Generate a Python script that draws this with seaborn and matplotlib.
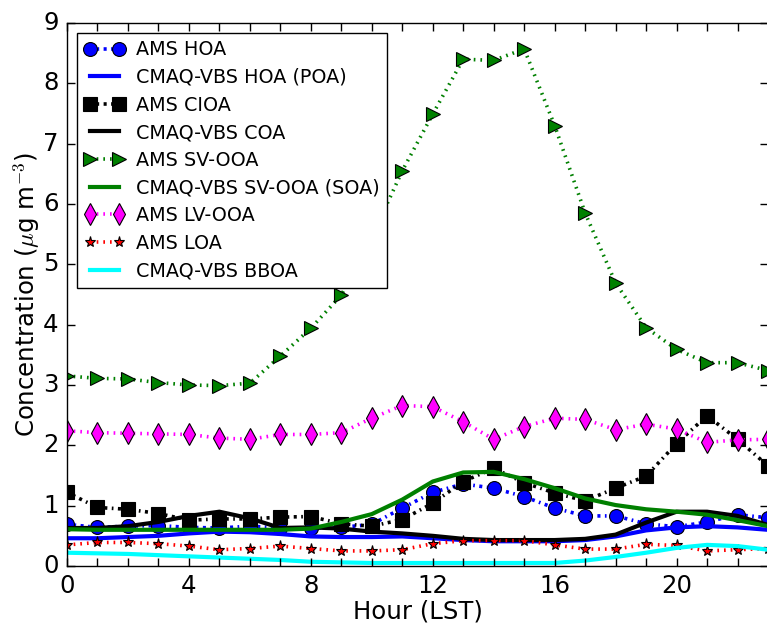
import numpy as np
import pandas as pd
import matplotlib
matplotlib.use("Agg")
import matplotlib.pyplot as plt
from matplotlib.ticker import MultipleLocator
import seaborn as sns

hours = list(range(24))

ams_hoa = [0.69, 0.64, 0.66, 0.67, 0.64, 0.63, 0.66, 0.63, 0.63, 0.64, 0.69, 0.96,
           1.22, 1.36, 1.29, 1.15, 0.96, 0.83, 0.83, 0.70, 0.65, 0.73, 0.85, 0.80]
cmaq_poa = [0.46, 0.46, 0.48, 0.50, 0.54, 0.57, 0.56, 0.53, 0.49, 0.48, 0.48, 0.49,
            0.46, 0.43, 0.41, 0.41, 0.41, 0.43, 0.49, 0.59, 0.64, 0.66, 0.64, 0.60]
ams_cioa = [1.22, 0.97, 0.94, 0.87, 0.76, 0.78, 0.78, 0.81, 0.82, 0.70, 0.66, 0.77,
            1.04, 1.40, 1.62, 1.38, 1.21, 1.08, 1.29, 1.49, 2.03, 2.49, 2.10, 1.66]
cmaq_coa = [0.63, 0.63, 0.66, 0.73, 0.83, 0.90, 0.79, 0.63, 0.64, 0.62, 0.57, 0.54,
            0.50, 0.45, 0.43, 0.43, 0.43, 0.45, 0.52, 0.72, 0.90, 0.90, 0.83, 0.68]
ams_svooa = [3.15, 3.11, 3.10, 3.04, 3.00, 2.99, 3.03, 3.48, 3.94, 4.49, 5.45, 6.55,
             7.49, 8.40, 8.38, 8.57, 7.30, 5.85, 4.69, 3.95, 3.59, 3.37, 3.37, 3.24]
cmaq_soa = [0.61, 0.60, 0.60, 0.60, 0.60, 0.60, 0.60, 0.60, 0.62, 0.73, 0.86, 1.10,
            1.40, 1.55, 1.56, 1.44, 1.29, 1.12, 1.01, 0.94, 0.90, 0.85, 0.76, 0.66]
ams_lvooa = [2.24, 2.21, 2.20, 2.19, 2.18, 2.12, 2.10, 2.18, 2.18, 2.21, 2.45, 2.66,
             2.64, 2.39, 2.10, 2.31, 2.45, 2.43, 2.26, 2.35, 2.27, 2.05, 2.09, 2.10]
ams_loa = [0.35, 0.39, 0.39, 0.37, 0.33, 0.27, 0.29, 0.33, 0.29, 0.25, 0.25, 0.27,
           0.37, 0.42, 0.42, 0.42, 0.35, 0.28, 0.28, 0.36, 0.34, 0.25, 0.27, 0.29]
cmaq_bboa = [0.22, 0.21, 0.20, 0.18, 0.16, 0.14, 0.12, 0.10, 0.07, 0.06, 0.05, 0.05,
             0.05, 0.05, 0.05, 0.05, 0.05, 0.09, 0.15, 0.22, 0.30, 0.35, 0.33, 0.27]

df = pd.DataFrame({
    "hour": hours,
    "AMS HOA": ams_hoa,
    "CMAQ-VBS HOA (POA)": cmaq_poa,
    "AMS CIOA": ams_cioa,
    "CMAQ-VBS COA": cmaq_coa,
    "AMS SV-OOA": ams_svooa,
    "CMAQ-VBS SV-OOA (SOA)": cmaq_soa,
    "AMS LV-OOA": ams_lvooa,
    "AMS LOA": ams_loa,
    "CMAQ-VBS BBOA": cmaq_bboa,
})

# (column, color, linestyle, marker, markersize)
series = [
    ("AMS HOA", "#0000ff", "-.", "o", 10),
    ("CMAQ-VBS HOA (POA)", "#0000ff", "-", None, 0),
    ("AMS CIOA", "#000000", "-.", "s", 9.5),
    ("CMAQ-VBS COA", "#000000", "-", None, 0),
    ("AMS SV-OOA", "#008000", ":", ">", 9.5),
    ("CMAQ-VBS SV-OOA (SOA)", "#008000", "-", None, 0),
    ("AMS LV-OOA", "#ff00ff", ":", "d", 11),
    ("AMS LOA", "#ff0000", ":", "*", 8),
    ("CMAQ-VBS BBOA", "#00ffff", "-", None, 0),
]

plt.style.use("classic")
plt.rcParams.update({
    "font.family": ["DejaVu Sans"],
    "mathtext.fontset": "cm",
    "lines.scale_dashes": False,
    "lines.dotted_pattern": [1.2, 3.6],
    "lines.dashdot_pattern": [2.2, 3.2, 1.2, 3.2],
    "figure.facecolor": "white",
    "savefig.facecolor": "white",
})

fig = plt.figure(figsize=(7.67, 6.32), dpi=100)
ax = fig.add_axes([67 / 767, 66 / 632, 701 / 767, 543 / 632])

for col, color, ls, marker, ms in series:
    if marker is None:
        sns.lineplot(data=df, x="hour", y=col, ax=ax, color=color, linestyle=ls,
                     linewidth=3.0, label=col)
    else:
        sns.lineplot(data=df, x="hour", y=col, ax=ax, color=color, linestyle=ls,
                     linewidth=2.6, marker=marker, markersize=ms,
                     markerfacecolor=color, markeredgecolor="k", mew=0.8, label=col)

ax.set_xlim(0, 23)
ax.set_ylim(0, 9)
ax.xaxis.set_major_locator(MultipleLocator(4))
ax.xaxis.set_minor_locator(MultipleLocator(1))
ax.yaxis.set_major_locator(MultipleLocator(1))
ax.tick_params(which="both", direction="in", top=True, right=True, length=6,
               width=1, labelsize=17.6, pad=6)
ax.set_xlabel("Hour (LST)", fontsize=17.6, labelpad=1)
ax.set_ylabel(r"Concentration ($\mu$g m$^{-3}$)", fontsize=17.6, labelpad=1)

ax.legend(loc="upper left", fontsize=13.8, numpoints=2, handlelength=2.1,
          frameon=True, fancybox=False, edgecolor="k", borderaxespad=0.5,
          labelspacing=0.45, handletextpad=0.6, borderpad=0.4)

fig.savefig("out.png", dpi=100)
